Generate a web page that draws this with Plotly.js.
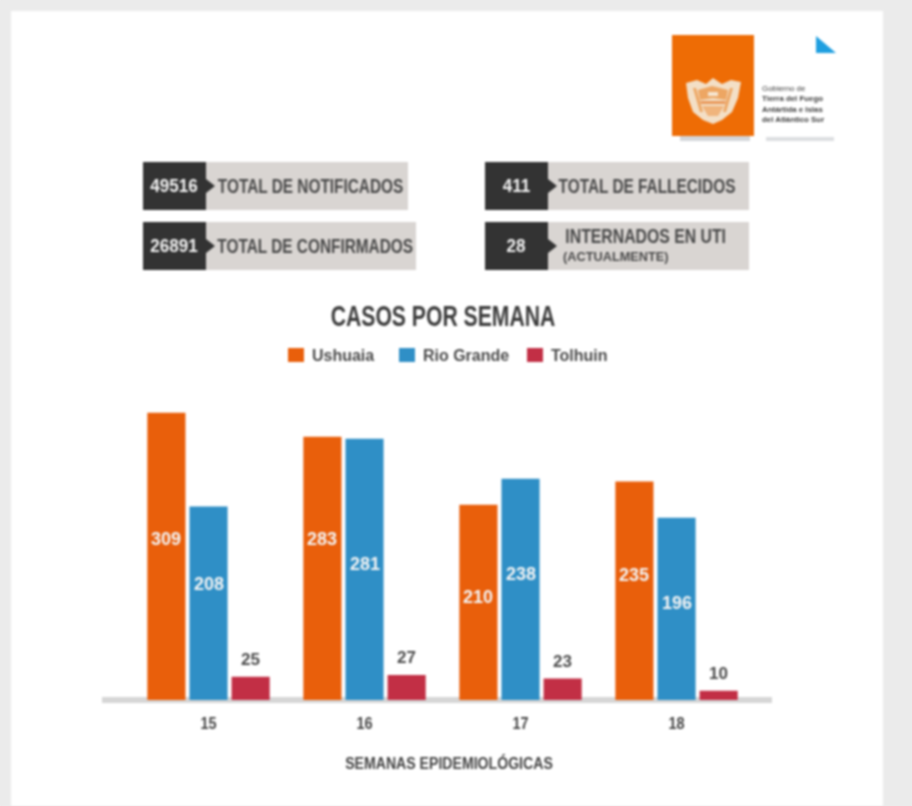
<!DOCTYPE html>
<html><head><meta charset="utf-8">
<script src="https://cdn.plot.ly/plotly-3.0.1.min.js"></script>
<style>html,body{margin:0;padding:0;background:#ebebeb;overflow:hidden}#chart{width:912px;height:806px;filter:blur(0.95px)}</style>
</head><body><div id="chart"></div>
<script>
const weeks = ['15','16','17','18'];
const ushuaia = [309,283,210,235];
const rioGrande = [208,281,238,196];
const tolhuin = [25,27,23,10];
const seriesNames = ['Ushuaia','Rio Grande','Tolhuin'];
const seriesColors = ['#e95f0b','#2f8fc6','#c22f45'];
const statValues = ['49516','26891','411','28'];
const statLabels = ['TOTAL DE NOTIFICADOS','TOTAL DE CONFIRMADOS','TOTAL DE FALLECIDOS','INTERNADOS EN UTI'];

const W=912,H=806;
const FONT='"Liberation Sans",sans-serif';
const px=x=>x/W, py=y=>1-y/H;
const shapes=[],ann=[];
const squeeze=new Map(), leftAnchored=new Set();
function rect(x0,y0,x1,y1,color,layer){shapes.push({type:'rect',xref:'paper',yref:'paper',x0:px(x0),x1:px(x1),y0:py(y1),y1:py(y0),fillcolor:color,line:{width:0},layer:layer||'below'});}
function poly(pts,color){shapes.push({type:'path',xref:'paper',yref:'paper',path:'M'+pts.map(p=>px(p[0])+','+py(p[1])).join(' L')+' Z',fillcolor:color,line:{width:0},layer:'below'});}
function txt(s,x,y,size,color,anchor,bold,sq){ann.push({xref:'paper',yref:'paper',x:px(x),y:py(y),text:bold===false?s:'<b>'+s+'</b>',showarrow:false,xanchor:anchor||'center',yanchor:'middle',font:{family:FONT,size:size,color:color}});
  if(sq)squeeze.set(s,sq); if(anchor==='left')leftAnchored.add(s);}

// page panel
rect(11,11,883,806,'#ffffff');

// logo
rect(680,136,750,141,'#d3d6da');
rect(766,137,834,141,'#dcdee1');
rect(672,35,754,136,'#ee6c05');
poly([[816,36],[836,53],[816,53]],'#1f9fe0');
poly([[686,83],[697,80],[706,84],[713,78],[722,84],[731,80],[741,82],[738,98],[732,112],[722,120],[713,124],[703,120],[693,112],[688,98]],'#f3dfc6');
poly([[698,90],[712,86],[728,90],[726,100],[713,98],[700,100]],'#eda663');
poly([[702,106],[724,106],[718,116],[708,116]],'#f0b47c');
poly([[693,88],[696,88],[703,112],[700,112]],'#eda663');
poly([[733,88],[730,88],[723,112],[726,112]],'#eda663');
poly([[708,92],[718,92],[718,96],[708,96]],'#f6e6d2');
poly([[700,101],[726,101],[725,104],[701,104]],'#e9985a');
['Gobierno de','Tierra del Fuego','Antártida e Islas','del Atlántico Sur'].forEach((s,i)=>txt(s,760,[88,98,109,120][i],7.5,'#3c3c3c','left',i>0,1.05));

// stat boxes
const boxes=[[143,162,408],[143,222,416],[485,162,749],[485,222,749]];
boxes.forEach((b,i)=>{
  const [x,y,xe]=b;
  rect(x+60,y,xe,y+48,'#d9d5d2');
  rect(x,y,x+63,y+48,'#333333');
  poly([[x+63,y+17],[x+72,y+24],[x+63,y+31]],'#333333');
  txt(statValues[i],x+31,y+24,18,'#f2f2f2','center',true,.95);
});
txt(statLabels[0],310.5,186,20,'#4a4a4a','center',true,.77);
txt(statLabels[1],314.5,246,20,'#4a4a4a','center',true,.77);
txt(statLabels[2],647,186,20,'#4a4a4a','center',true,.77);
txt(statLabels[3],645,236,20,'#4a4a4a','center',true,.79);
txt('(ACTUALMENTE)',616,257,13,'#4a4a4a','center',true,.98);

// legend
const legX=[288,399,527];
seriesNames.forEach((n,i)=>{
  rect(legX[i],348,legX[i]+16,362,seriesColors[i]);
  txt(n,legX[i]+22,355,17,'#4a4a4a','left',true,.94);
});

// baseline
rect(102,697,772,703,'#d6d6d6');

// data labels: height of each label as share of its bar
const labelShare=[[.56,.61,.53,.57],[.60,.52,.57,.53]];
[ushuaia,rioGrande].forEach((vals,s)=>vals.forEach((v,i)=>{
  ann.push({xref:'x',yref:'y',x:i+(s==0?-0.27:0),y:v*labelShare[s][i],text:'<b>'+v+'</b>',showarrow:false,yanchor:'middle',font:{family:FONT,size:18,color:'#f4f4f4'}});
}));
tolhuin.forEach((v,i)=>ann.push({xref:'x',yref:'y',x:i+0.27,y:v,yshift:17,text:'<b>'+v+'</b>',showarrow:false,yanchor:'middle',font:{family:FONT,size:17,color:'#4a4a4a'}}));

const traces=[ushuaia,rioGrande,tolhuin].map((v,i)=>({type:'bar',name:seriesNames[i],x:weeks,y:v,marker:{color:seriesColors[i],line:{width:0}},hoverinfo:'x+y+name',showlegend:false}));

Plotly.newPlot('chart',traces,{
  width:W,height:H,margin:{l:0,r:0,t:0,b:0,pad:0},
  paper_bgcolor:'#ebebeb',plot_bgcolor:'rgba(0,0,0,0)',
  barmode:'group',bargap:0.19,bargroupgap:0.095,
  title:{text:'<b>CASOS POR SEMANA</b>',x:443/W,y:py(316),xanchor:'center',yanchor:'middle',xref:'paper',yref:'paper',font:{family:FONT,size:29,color:'#3c3c3c'}},
  xaxis:{type:'category',domain:[px(126),px(772)],range:[-0.529,3.612],showgrid:false,zeroline:false,showline:false,ticks:'outside',ticklen:8,tickcolor:'rgba(0,0,0,0)',tickfont:{family:FONT,size:17,weight:700,color:'#444'},
    title:{text:'<b>SEMANAS EPIDEMIOLÓGICAS</b>',standoff:24,font:{family:FONT,size:17,color:'#444'}}},
  yaxis:{domain:[py(700),py(400)],range:[0,322.6],visible:false,showgrid:false,zeroline:false},
  shapes:shapes,annotations:ann
},{displayModeBar:false}).then(()=>{
  // the reference uses a condensed face: narrow the drawn text in place
  function narrow(el,k,left){
    const b=el.getBBox(), c=left?b.x:b.x+b.width/2;
    const old=el.getAttribute('transform')||'';
    el.setAttribute('transform',`${old} translate(${c},0) scale(${k},1) translate(${-c},0)`);
  }
  document.querySelectorAll('.annotation-text').forEach(el=>{
    const s=el.textContent;
    if(squeeze.has(s)) narrow(el,squeeze.get(s),leftAnchored.has(s));
  });
  document.querySelectorAll('.gtitle').forEach(el=>narrow(el,.73,false));
  document.querySelectorAll('.xtitle').forEach(el=>narrow(el,.83,false));
  document.querySelectorAll('.xtick text').forEach(el=>narrow(el,.85,false));
});
</script></body></html>
